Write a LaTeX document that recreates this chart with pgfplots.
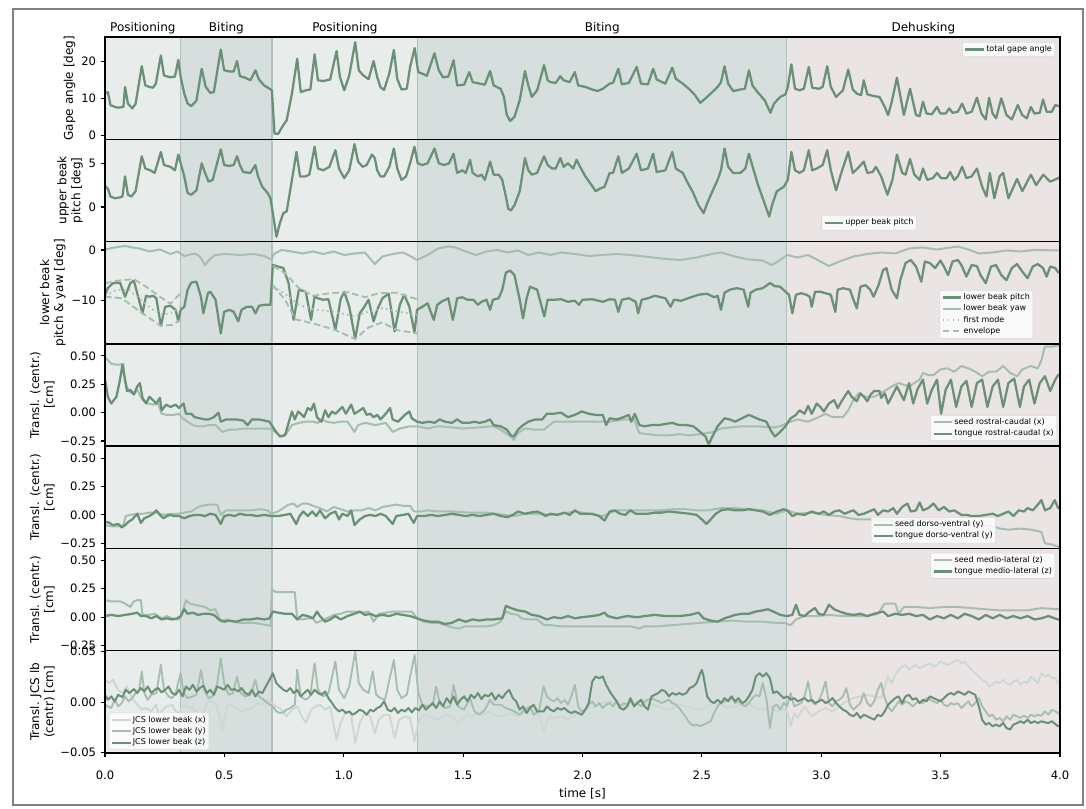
\documentclass[border=0pt]{standalone}
\usepackage{fontspec}
\setmainfont{DejaVu Sans}
\setsansfont{DejaVu Sans}
\usepackage{pgfplots}
\pgfplotsset{compat=1.18}
\definecolor{cdark}{HTML}{6A9176}
\definecolor{cmid}{HTML}{A6BEAE}
\definecolor{clight}{HTML}{CDD8D2}
\definecolor{cdot}{HTML}{AEBFB4}
\definecolor{cpos}{HTML}{E8ECEA}
\definecolor{cbit}{HTML}{D6DFDE}
\definecolor{cdeh}{HTML}{EAE4E5}
\definecolor{cedge}{HTML}{B0BFBF}
\newcommand{\spans}[2]{%
\fill[cpos] (axis cs:0,#1) rectangle (axis cs:0.317,#2);
\fill[cbit] (axis cs:0.317,#1) rectangle (axis cs:0.700,#2);
\fill[cpos] (axis cs:0.700,#1) rectangle (axis cs:1.310,#2);
\fill[cbit] (axis cs:1.310,#1) rectangle (axis cs:2.855,#2);
\fill[cdeh] (axis cs:2.855,#1) rectangle (axis cs:4,#2);
\draw[cedge,line width=1.1pt] (axis cs:0.317,#1) -- (axis cs:0.317,#2);
\draw[cedge,line width=1.1pt] (axis cs:0.700,#1) -- (axis cs:0.700,#2);
\draw[cedge,line width=1.1pt] (axis cs:1.310,#1) -- (axis cs:1.310,#2);
\draw[cedge,line width=1.1pt] (axis cs:2.855,#1) -- (axis cs:2.855,#2);
}
\pgfplotsset{
 panel/.style={
  scale only axis, width=716.25pt, height=76.714pt,
  xmin=0, xmax=4, xtick=\empty,
  axis on top=true, clip mode=individual,
  scaled y ticks=false, scaled x ticks=false,
  axis line style={line width=1.1pt},
  ytick pos=left, tick align=outside, major tick length=3.2pt,
  tick style={black, line width=0.8pt},
  yticklabel style={font=\fontsize{8.7}{10}\selectfont},
  xticklabel style={font=\fontsize{8.7}{10}\selectfont, yshift=-6.5pt},
  ylabel style={font=\fontsize{9}{10.5}\selectfont, align=center, yshift=-2.5pt},
  xlabel style={font=\fontsize{9}{10.5}\selectfont},
  legend style={font=\fontsize{6}{7}\selectfont, fill=white, fill opacity=0.8, text opacity=1, draw=black!15, rounded corners=1.5pt, inner sep=1.5pt, row sep=0.8pt, nodes={inner sep=0.8pt}},
  legend cell align=left,
  legend image code/.code={\draw[##1] (0pt,0pt) -- (14pt,0pt);},
 },
 dk/.style={cdark, line width=1.7pt, line join=round},
 md/.style={cmid, line width=1.5pt, line join=round},
}
\begin{document}
\begin{tikzpicture}
\path[use as bounding box] (0pt,0pt) rectangle (814.5pt,-606.75pt);
\draw[black!50, line width=1.5pt] (9.75pt,-6.75pt) rectangle (812.25pt,-603.75pt);

% ---------------- Panel 1
\begin{axis}[panel, at={(78.75pt,-104.464pt)}, anchor=south west,
 ymin=-1.05, ymax=26.6, ytick={0,10,20}, yticklabels={0,10,20},
 ylabel={Gape angle [deg]},
 legend style={at={(0.995,0.95)}, anchor=north east}]
\spans{-1.05}{26.6}
\addplot[dk] coordinates {(0,11.5)(0.012,11.7)(0.023,8.2)(0.041,7.7)(0.055,7.5)(0.077,7.7)(0.084,13.1)(0.096,8.6)(0.114,7.3)(0.128,8.5)(0.154,18.7)(0.169,13.5)(0.186,13.1)(0.201,12.9)(0.213,14.0)(0.234,21.6)(0.247,16.2)(0.274,15.7)(0.293,15.9)(0.307,20.4)(0.317,15.8)(0.332,11.3)(0.346,8.6)(0.361,7.9)(0.383,9.4)(0.405,18.0)(0.422,13.1)(0.441,11.5)(0.456,11.7)(0.485,23.2)(0.499,17.6)(0.521,17.3)(0.539,17.3)(0.553,20.1)(0.565,16.0)(0.587,15.6)(0.609,14.9)(0.630,17.6)(0.645,15.1)(0.667,13.5)(0.689,12.6)(0.699,12.2)(0.710,0.5)(0.725,0.4)(0.747,2.8)(0.761,4.1)(0.783,11.3)(0.805,20.7)(0.820,11.7)(0.841,12.2)(0.860,12.4)(0.878,21.9)(0.892,14.9)(0.914,14.7)(0.943,15.1)(0.970,22.8)(0.984,15.8)(1.002,12.2)(1.023,16.2)(1.048,25.2)(1.063,17.6)(1.082,16.2)(1.104,15.2)(1.125,20.1)(1.140,15.8)(1.154,13.0)(1.169,12.3)(1.191,16.8)(1.210,23.1)(1.224,15.3)(1.242,12.4)(1.264,12.6)(1.278,18.5)(1.297,23.6)(1.312,17.1)(1.329,16.7)(1.348,16.1)(1.380,22.2)(1.398,17.6)(1.416,15.7)(1.438,15.9)(1.460,20.3)(1.475,13.5)(1.504,13.7)(1.526,17.1)(1.540,14.4)(1.569,14.0)(1.591,13.7)(1.613,17.4)(1.628,13.5)(1.657,12.6)(1.671,10.4)(1.683,5.5)(1.697,3.9)(1.715,5.0)(1.737,9.5)(1.759,17.4)(1.773,13.5)(1.788,10.4)(1.810,12.2)(1.839,19.0)(1.854,14.9)(1.866,14.4)(1.888,14.2)(1.907,16.0)(1.921,14.9)(1.946,14.4)(1.968,17.1)(1.982,13.5)(2.012,13.1)(2.041,12.4)(2.063,12.0)(2.085,12.6)(2.114,14.0)(2.128,14.2)(2.150,18.0)(2.165,13.8)(2.194,14.2)(2.227,18.5)(2.245,14.0)(2.274,13.8)(2.296,18.0)(2.311,15.1)(2.347,14.0)(2.376,18.3)(2.391,15.3)(2.420,14.0)(2.449,12.4)(2.471,10.9)(2.493,8.8)(2.515,10.0)(2.537,11.3)(2.566,13.1)(2.580,14.4)(2.595,18.7)(2.610,14.0)(2.631,12.0)(2.661,12.4)(2.680,12.6)(2.697,17.6)(2.712,13.5)(2.733,11.7)(2.763,9.5)(2.787,6.1)(2.802,8.6)(2.828,10.4)(2.850,11.1)(2.860,13.1)(2.875,19.2)(2.890,12.6)(2.909,12.2)(2.927,12.6)(2.948,18.5)(2.962,12.9)(2.989,12.6)(3.006,13.1)(3.025,18.7)(3.040,13.1)(3.062,10.4)(3.091,12.2)(3.113,17.8)(3.132,12.4)(3.149,11.3)(3.167,10.9)(3.178,14.9)(3.193,11.1)(3.222,10.6)(3.244,10.4)(3.266,7.7)(3.280,5.5)(3.295,9.0)(3.317,15.6)(3.346,5.5)(3.372,12.6)(3.397,5.5)(3.412,5.2)(3.426,9.1)(3.441,5.9)(3.463,5.7)(3.485,7.7)(3.499,5.9)(3.521,5.9)(3.536,7.3)(3.550,6.1)(3.572,6.4)(3.590,8.6)(3.608,5.9)(3.630,6.4)(3.652,10.2)(3.671,5.9)(3.689,4.3)(3.703,10.2)(3.718,5.9)(3.732,4.6)(3.754,10.0)(3.776,5.5)(3.798,4.3)(3.823,8.2)(3.842,5.5)(3.861,4.6)(3.878,7.7)(3.893,5.9)(3.915,6.1)(3.929,9.7)(3.944,6.4)(3.966,6.4)(3.980,8.2)(3.995,7.9)};
\addlegendentry{total gape angle}
\node[anchor=base, yshift=3.75pt, font=\fontsize{9}{10}\selectfont] at (axis cs:0.1585,26.6) {Positioning};
\node[anchor=base, yshift=3.75pt, font=\fontsize{9}{10}\selectfont] at (axis cs:0.5085,26.6) {Biting};
\node[anchor=base, yshift=3.75pt, font=\fontsize{9}{10}\selectfont] at (axis cs:1.005,26.6) {Positioning};
\node[anchor=base, yshift=3.75pt, font=\fontsize{9}{10}\selectfont] at (axis cs:2.0825,26.6) {Biting};
\node[anchor=base, yshift=3.75pt, font=\fontsize{9}{10}\selectfont] at (axis cs:3.4275,26.6) {Dehusking};
\end{axis}

% ---------------- Panel 2
\begin{axis}[panel, at={(78.75pt,-181.178pt)}, anchor=south west,
 ymin=-3.96, ymax=7.75, ytick={0,5}, yticklabels={0,5},
 ylabel={upper beak\\pitch [deg]},
 legend style={at={(0.80,0.11)}, anchor=south}]
\spans{-3.96}{7.75}
\addplot[dk] coordinates {(0,2.4)(0.012,2.1)(0.023,1.2)(0.041,1.0)(0.063,1.1)(0.073,1.2)(0.084,3.5)(0.096,1.4)(0.111,1.2)(0.128,1.8)(0.154,5.8)(0.169,4.4)(0.189,4.2)(0.208,3.9)(0.218,4.8)(0.234,6.3)(0.247,4.8)(0.274,4.6)(0.293,4.2)(0.307,6.0)(0.317,5.0)(0.332,3.5)(0.346,1.6)(0.361,1.4)(0.383,1.9)(0.405,5.0)(0.419,3.9)(0.434,2.9)(0.451,3.1)(0.485,6.6)(0.499,4.8)(0.521,4.7)(0.539,4.8)(0.553,5.8)(0.565,4.8)(0.579,4.0)(0.609,3.9)(0.630,4.8)(0.641,3.5)(0.659,2.3)(0.681,1.6)(0.693,1.0)(0.703,-0.7)(0.718,-3.4)(0.732,-1.9)(0.747,-0.7)(0.761,-0.5)(0.783,3.1)(0.802,6.3)(0.817,3.5)(0.839,3.5)(0.856,3.7)(0.878,6.9)(0.892,4.4)(0.914,4.2)(0.940,4.6)(0.965,6.5)(0.980,4.4)(1.002,3.3)(1.023,4.2)(1.045,7.2)(1.060,5.2)(1.079,4.6)(1.096,4.8)(1.118,6.0)(1.130,5.6)(1.140,4.2)(1.154,3.5)(1.169,3.5)(1.191,4.6)(1.210,6.7)(1.224,4.4)(1.242,3.1)(1.261,3.5)(1.278,5.0)(1.296,6.9)(1.310,5.0)(1.329,4.8)(1.351,5.0)(1.380,6.7)(1.398,5.0)(1.421,4.8)(1.441,5.0)(1.460,6.1)(1.475,3.9)(1.497,4.2)(1.511,3.9)(1.529,5.4)(1.540,3.9)(1.562,3.5)(1.577,3.7)(1.591,3.1)(1.613,5.2)(1.628,3.7)(1.649,3.7)(1.664,3.1)(1.679,1.2)(1.689,-0.2)(1.700,-0.4)(1.715,0.2)(1.737,1.8)(1.759,5.6)(1.773,4.2)(1.788,3.7)(1.810,3.9)(1.839,5.8)(1.854,4.8)(1.873,4.4)(1.888,4.4)(1.907,5.6)(1.921,4.6)(1.939,5.0)(1.961,4.4)(1.975,5.4)(1.990,4.6)(2.012,3.5)(2.038,2.5)(2.055,1.8)(2.073,2.1)(2.092,2.3)(2.114,3.9)(2.128,3.9)(2.150,5.8)(2.165,3.9)(2.194,4.4)(2.227,6.1)(2.245,4.2)(2.274,4.4)(2.296,6.1)(2.311,4.0)(2.347,4.2)(2.376,6.3)(2.391,4.4)(2.420,3.9)(2.442,2.7)(2.464,1.6)(2.486,0.2)(2.507,-0.7)(2.522,0.4)(2.544,1.8)(2.566,3.1)(2.580,4.2)(2.595,6.7)(2.610,4.6)(2.631,3.9)(2.661,3.9)(2.682,4.4)(2.697,6.1)(2.715,4.4)(2.733,2.7)(2.755,1.0)(2.782,-1.1)(2.796,0.4)(2.814,1.8)(2.843,2.3)(2.860,3.1)(2.875,6.3)(2.890,4.2)(2.909,3.9)(2.927,4.2)(2.948,6.5)(2.962,4.2)(2.981,4.4)(3.006,4.8)(3.025,6.5)(3.040,4.2)(3.062,1.9)(3.084,3.9)(3.113,6.3)(3.132,3.9)(3.152,4.4)(3.178,5.2)(3.193,3.9)(3.215,4.0)(3.229,4.6)(3.251,3.5)(3.277,1.4)(3.298,3.1)(3.317,6.0)(3.339,3.9)(3.353,3.7)(3.372,5.5)(3.390,3.7)(3.412,3.1)(3.426,4.4)(3.444,3.1)(3.467,3.3)(3.485,3.9)(3.502,3.3)(3.525,3.3)(3.540,4.0)(3.557,3.1)(3.572,3.5)(3.590,4.6)(3.608,3.3)(3.630,3.5)(3.652,4.4)(3.674,2.3)(3.692,1.2)(3.706,3.9)(3.725,1.0)(3.747,3.5)(3.762,3.9)(3.784,1.0)(3.820,3.2)(3.842,1.8)(3.878,3.7)(3.900,2.5)(3.930,3.7)(3.959,2.9)(3.992,3.3)(4.0,3.4)};
\addlegendentry{upper beak pitch}
\end{axis}

% ---------------- Panel 3
\begin{axis}[panel, at={(78.75pt,-257.892pt)}, anchor=south west,
 ymin=-18.67, ymax=1.67, ytick={-10,0}, yticklabels={−10,0},
 ylabel={lower beak\\pitch \& yaw [deg]}, unbounded coords=jump,
 legend style={at={(0.972,0.05)}, anchor=south east}]
\spans{-18.67}{1.67}
\addplot[dk] coordinates {(0,-8.9)(0.012,-7.6)(0.033,-6.6)(0.063,-6.5)(0.084,-9.3)(0.106,-6.6)(0.121,-6.1)(0.135,-8.6)(0.157,-12.6)(0.172,-9.1)(0.186,-9.3)(0.201,-9.1)(0.215,-9.6)(0.234,-15.1)(0.252,-11.3)(0.274,-11.1)(0.296,-11.9)(0.307,-14.2)(0.317,-11.9)(0.332,-11.3)(0.346,-7.9)(0.361,-6.5)(0.383,-6.3)(0.402,-9.3)(0.412,-12.6)(0.431,-8.6)(0.441,-8.3)(0.463,-9.9)(0.485,-16.6)(0.499,-12.3)(0.521,-11.9)(0.539,-12.3)(0.558,-14.2)(0.572,-11.9)(0.594,-11.3)(0.616,-11.3)(0.630,-12.6)(0.645,-11.1)(0.667,-10.9)(0.693,-10.9)(0.703,-3.0)(0.725,-3.3)(0.747,-3.6)(0.769,-6.6)(0.790,-13.9)(0.812,-7.9)(0.841,-8.3)(0.863,-13.9)(0.878,-9.3)(0.892,-9.6)(0.914,-9.9)(0.936,-9.8)(0.965,-15.9)(0.987,-9.8)(1.002,-8.3)(1.023,-11.3)(1.048,-17.7)(1.067,-12.6)(1.082,-11.6)(1.104,-9.9)(1.125,-14.2)(1.140,-11.9)(1.162,-9.6)(1.188,-8.7)(1.213,-16.2)(1.235,-10.9)(1.253,-8.9)(1.275,-11.3)(1.296,-16.4)(1.307,-11.9)(1.329,-11.3)(1.351,-10.6)(1.377,-13.9)(1.392,-10.9)(1.409,-10.3)(1.438,-9.6)(1.457,-13.9)(1.475,-9.6)(1.497,-9.4)(1.518,-9.9)(1.543,-9.9)(1.562,-10.9)(1.577,-10.3)(1.598,-9.9)(1.613,-11.9)(1.625,-9.9)(1.649,-9.6)(1.664,-7.9)(1.679,-4.5)(1.697,-4.1)(1.715,-5.0)(1.737,-9.9)(1.751,-13.6)(1.766,-9.6)(1.780,-7.3)(1.810,-7.9)(1.840,-13.2)(1.854,-9.9)(1.880,-9.9)(1.910,-9.8)(1.939,-10.3)(1.968,-10.1)(1.985,-10.9)(2.000,-9.9)(2.041,-9.8)(2.085,-10.3)(2.114,-9.8)(2.136,-9.9)(2.150,-12.3)(2.165,-9.9)(2.194,-9.6)(2.223,-10.3)(2.233,-12.6)(2.248,-9.9)(2.274,-9.6)(2.303,-9.1)(2.347,-9.6)(2.369,-11.3)(2.383,-9.9)(2.413,-10.1)(2.442,-9.6)(2.486,-8.9)(2.522,-8.7)(2.551,-9.4)(2.566,-9.1)(2.580,-11.9)(2.595,-8.5)(2.617,-7.9)(2.646,-7.6)(2.675,-7.9)(2.694,-11.3)(2.704,-8.5)(2.726,-7.9)(2.755,-7.6)(2.785,-6.6)(2.806,-7.2)(2.828,-7.3)(2.850,-8.3)(2.865,-8.9)(2.879,-12.6)(2.894,-8.9)(2.916,-8.6)(2.938,-8.9)(2.952,-9.3)(2.960,-11.3)(2.974,-8.3)(2.996,-8.3)(3.018,-8.6)(3.040,-8.9)(3.059,-12.3)(3.069,-7.9)(3.091,-7.6)(3.120,-7.9)(3.135,-9.9)(3.149,-11.6)(3.164,-7.3)(3.186,-7.0)(3.205,-7.9)(3.219,-9.3)(3.240,-7.0)(3.259,-4.0)(3.273,-3.6)(3.295,-7.9)(3.317,-9.6)(3.331,-6.0)(3.353,-2.6)(3.375,-2.0)(3.397,-3.3)(3.419,-6.3)(3.434,-2.3)(3.455,-2.6)(3.477,-3.6)(3.499,-2.1)(3.514,-3.3)(3.531,-5.0)(3.550,-2.3)(3.572,-2.0)(3.587,-3.0)(3.608,-5.3)(3.630,-3.0)(3.652,-3.2)(3.667,-5.0)(3.689,-6.6)(3.711,-3.3)(3.732,-3.0)(3.754,-5.0)(3.776,-6.0)(3.798,-3.6)(3.820,-2.8)(3.842,-4.3)(3.864,-5.6)(3.886,-3.3)(3.907,-2.8)(3.929,-3.6)(3.944,-5.3)(3.959,-3.3)(3.980,-3.6)(3.995,-4.6)};
\addlegendentry{lower beak pitch}
\addplot[md] coordinates {(0,0.1)(0.041,0.5)(0.084,0.8)(0.114,0.5)(0.143,0.3)(0.186,-0.3)(0.230,0.1)(0.274,-0.8)(0.303,-0.3)(0.332,-1.2)(0.376,-0.7)(0.397,-1.3)(0.419,-3.0)(0.441,-1.7)(0.463,-1.0)(0.507,-0.8)(0.565,-1.0)(0.623,-0.8)(0.667,-1.2)(0.696,-1.9)(0.710,-0.7)(0.740,0.0)(0.783,-0.3)(0.827,-0.7)(0.871,-0.3)(0.914,-0.8)(0.958,-0.3)(1.002,-1.0)(1.045,-0.7)(1.089,-0.5)(1.130,-2.8)(1.162,-1.3)(1.205,-0.8)(1.249,-0.5)(1.278,-1.2)(1.307,-2.0)(1.351,-1.0)(1.395,0.3)(1.438,0.7)(1.468,0.5)(1.511,-0.3)(1.555,-1.0)(1.598,-0.3)(1.642,0.0)(1.686,-0.5)(1.730,-0.1)(1.773,-1.0)(1.817,-0.5)(1.866,-1.0)(1.910,-0.5)(1.968,-0.8)(2.026,-1.2)(2.085,-1.0)(2.143,-0.8)(2.201,-1.0)(2.260,-1.3)(2.332,-1.7)(2.405,-2.0)(2.478,-1.5)(2.551,-0.7)(2.580,-0.5)(2.639,-1.3)(2.697,-1.9)(2.755,-2.1)(2.792,-3.0)(2.828,-2.0)(2.857,-1.0)(2.901,-1.5)(2.945,-1.0)(2.989,-2.1)(3.032,-3.2)(3.076,-2.3)(3.135,-1.3)(3.193,-0.8)(3.251,-0.5)(3.310,-0.7)(3.368,0.3)(3.426,0.5)(3.485,0.1)(3.543,0.5)(3.572,0.7)(3.616,0.1)(3.660,-0.7)(3.718,-0.5)(3.776,-0.1)(3.835,-0.3)(3.893,0.0)(4.0,-0.1)};
\addlegendentry{lower beak yaw}
\addplot[cdot, line width=1.4pt, dash pattern=on 1.2pt off 2.6pt] coordinates {(0,-9.1)(0.048,-7.9)(0.099,-7.9)(0.143,-9.6)(0.201,-11.9)(0.245,-12.9)(0.288,-12.3)(0.317,-11.3)(0.5,nan)(0.703,-7.3)(0.754,-8.7)(0.812,-10.9)(0.871,-11.8)(0.958,-12.3)(1.048,-13.2)(1.104,-12.3)(1.162,-11.6)(1.235,-12.3)(1.307,-12.9)};
\addlegendentry{first mode}
\addplot[cmid, line width=1.4pt, dash pattern=on 5pt off 2.5pt] coordinates {(0,-6.6)(0.055,-6.1)(0.121,-5.8)(0.172,-7.3)(0.230,-9.3)(0.274,-10.7)(0.317,-8.6)(0.5,nan)(0.703,-3.2)(0.754,-4.6)(0.812,-7.6)(0.871,-9.1)(0.943,-8.6)(1.016,-8.4)(1.089,-9.4)(1.147,-8.6)(1.220,-8.5)(1.307,-9.8)};
\addlegendentry{envelope}
\addplot[cmid, line width=1.4pt, dash pattern=on 5pt off 2.5pt, forget plot] coordinates {(0,-9.3)(0.070,-9.6)(0.157,-12.6)(0.234,-15.1)(0.281,-14.9)(0.317,-13.9)(0.5,nan)(0.703,-7.0)(0.754,-9.9)(0.798,-13.8)(0.871,-14.6)(0.958,-15.8)(1.048,-17.7)(1.104,-15.4)(1.162,-14.4)(1.220,-15.9)(1.307,-16.6)};
\end{axis}

% ---------------- Panel 4
\begin{axis}[panel, at={(78.75pt,-334.606pt)}, anchor=south west,
 ymin=-0.295, ymax=0.605, ytick={-0.25,0,0.25,0.5}, yticklabels={−0.25,0.00,0.25,0.50},
 ylabel={Transl. (centr.)\\{}[cm]},
 legend style={at={(0.997,0.05)}, anchor=south east}]
\spans{-0.295}{0.605}
\addplot[md] coordinates {(0,0.49)(0.026,0.43)(0.055,0.42)(0.077,0.43)(0.084,0.27)(0.099,0.19)(0.121,0.16)(0.135,0.20)(0.157,0.11)(0.179,0.08)(0.201,0.07)(0.223,0.08)(0.237,-0.01)(0.259,-0.02)(0.288,-0.02)(0.310,-0.01)(0.325,-0.05)(0.346,-0.08)(0.368,-0.11)(0.390,-0.12)(0.412,-0.12)(0.434,-0.11)(0.463,-0.11)(0.492,-0.17)(0.521,-0.15)(0.550,-0.15)(0.579,-0.14)(0.638,-0.14)(0.696,-0.14)(0.718,-0.18)(0.740,-0.21)(0.761,-0.18)(0.783,-0.11)(0.812,-0.09)(0.841,-0.08)(0.871,-0.08)(0.892,-0.09)(0.907,-0.06)(0.929,-0.08)(0.958,-0.09)(0.987,-0.08)(1.016,-0.08)(1.045,-0.17)(1.060,-0.11)(1.089,-0.09)(1.133,-0.11)(1.176,-0.09)(1.205,-0.17)(1.235,-0.14)(1.278,-0.12)(1.307,-0.12)(1.351,-0.14)(1.395,-0.12)(1.453,-0.13)(1.497,-0.14)(1.569,-0.13)(1.628,-0.12)(1.657,-0.15)(1.700,-0.21)(1.712,-0.24)(1.730,-0.18)(1.759,-0.14)(1.802,-0.15)(1.839,-0.15)(1.880,-0.08)(1.939,-0.08)(1.997,-0.08)(2.055,-0.08)(2.114,-0.08)(2.172,-0.06)(2.216,-0.06)(2.238,-0.18)(2.274,-0.19)(2.318,-0.20)(2.362,-0.20)(2.405,-0.19)(2.449,-0.20)(2.493,-0.19)(2.522,-0.18)(2.551,-0.17)(2.580,-0.14)(2.624,-0.13)(2.668,-0.12)(2.726,-0.12)(2.799,-0.13)(2.828,-0.12)(2.857,-0.09)(2.901,-0.06)(2.945,-0.08)(2.989,-0.04)(3.018,-0.01)(3.047,-0.04)(3.091,-0.04)(3.113,0.02)(3.135,0.11)(3.156,0.17)(3.186,0.14)(3.222,0.14)(3.266,0.19)(3.295,0.23)(3.324,0.26)(3.368,0.23)(3.412,0.29)(3.426,0.35)(3.448,0.33)(3.470,0.33)(3.499,0.38)(3.528,0.39)(3.557,0.36)(3.587,0.41)(3.616,0.39)(3.645,0.36)(3.674,0.32)(3.703,0.36)(3.732,0.36)(3.762,0.41)(3.791,0.35)(3.820,0.32)(3.842,0.38)(3.878,0.41)(3.907,0.39)(3.922,0.46)(3.937,0.58)(3.966,0.58)(3.992,0.59)(4.0,0.59)};
\addlegendentry{seed rostral-caudal (x)}
\addplot[dk] coordinates {(0,0.29)(0.012,0.14)(0.026,0.08)(0.048,0.14)(0.063,0.29)(0.073,0.42)(0.084,0.29)(0.092,0.19)(0.106,0.20)(0.121,0.16)(0.135,0.23)(0.146,0.26)(0.157,0.13)(0.172,0.08)(0.186,0.14)(0.201,0.11)(0.215,0.08)(0.230,0.13)(0.237,0.02)(0.256,0.07)(0.274,0.05)(0.296,0.07)(0.310,0.04)(0.329,0.08)(0.339,-0.01)(0.361,-0.01)(0.376,-0.04)(0.397,-0.05)(0.419,-0.06)(0.434,-0.06)(0.456,-0.04)(0.475,0.00)(0.485,-0.08)(0.507,-0.06)(0.528,-0.06)(0.550,-0.06)(0.579,-0.07)(0.597,-0.11)(0.616,-0.06)(0.645,-0.06)(0.667,-0.07)(0.689,-0.08)(0.710,-0.15)(0.732,-0.21)(0.754,-0.20)(0.769,-0.09)(0.783,0.01)(0.795,-0.06)(0.809,0.01)(0.820,-0.01)(0.834,-0.04)(0.849,0.04)(0.863,0.02)(0.875,0.08)(0.888,-0.04)(0.907,-0.08)(0.922,0.02)(0.936,-0.04)(0.951,0.01)(0.965,-0.01)(0.980,0.02)(0.994,0.05)(1.009,-0.01)(1.031,0.07)(1.045,-0.01)(1.060,0.01)(1.082,0.04)(1.096,-0.02)(1.111,-0.01)(1.125,-0.04)(1.140,-0.02)(1.154,-0.06)(1.176,-0.01)(1.194,0.04)(1.205,-0.06)(1.227,-0.08)(1.256,-0.02)(1.275,0.01)(1.285,-0.05)(1.307,-0.08)(1.329,-0.09)(1.358,-0.08)(1.380,-0.09)(1.402,-0.06)(1.424,-0.08)(1.453,-0.09)(1.475,-0.06)(1.497,-0.09)(1.526,-0.09)(1.547,-0.08)(1.569,-0.09)(1.591,-0.08)(1.613,-0.06)(1.628,-0.11)(1.657,-0.12)(1.683,-0.15)(1.700,-0.20)(1.712,-0.21)(1.730,-0.15)(1.751,-0.11)(1.773,-0.08)(1.802,-0.06)(1.831,-0.06)(1.851,-0.01)(1.880,-0.01)(1.910,0.00)(1.939,-0.04)(1.968,-0.02)(1.997,0.01)(2.026,-0.01)(2.055,-0.02)(2.085,-0.02)(2.099,-0.11)(2.114,-0.05)(2.143,-0.06)(2.172,-0.04)(2.194,-0.02)(2.204,-0.08)(2.219,-0.01)(2.238,-0.11)(2.260,-0.12)(2.289,-0.11)(2.318,-0.11)(2.347,-0.10)(2.376,-0.09)(2.405,-0.11)(2.435,-0.11)(2.464,-0.12)(2.493,-0.17)(2.515,-0.21)(2.529,-0.28)(2.544,-0.21)(2.566,-0.12)(2.595,-0.05)(2.617,-0.06)(2.639,-0.08)(2.668,-0.05)(2.697,-0.02)(2.719,-0.04)(2.741,-0.06)(2.770,-0.08)(2.792,-0.17)(2.806,-0.21)(2.828,-0.17)(2.850,-0.12)(2.872,-0.05)(2.894,-0.02)(2.909,0.02)(2.930,-0.01)(2.945,0.06)(2.960,-0.01)(2.981,0.08)(2.996,0.05)(3.011,0.01)(3.032,0.08)(3.054,0.11)(3.069,0.04)(3.091,0.12)(3.113,0.19)(3.127,0.14)(3.149,0.10)(3.164,0.17)(3.178,0.14)(3.193,0.10)(3.207,0.16)(3.222,0.19)(3.244,0.19)(3.251,0.13)(3.266,0.17)(3.280,0.08)(3.295,0.14)(3.317,0.23)(3.331,0.17)(3.346,0.11)(3.368,0.26)(3.385,0.08)(3.404,0.21)(3.426,0.29)(3.444,0.08)(3.463,0.20)(3.485,0.29)(3.502,-0.01)(3.521,0.20)(3.543,0.29)(3.565,0.05)(3.587,0.23)(3.608,0.28)(3.630,0.05)(3.652,0.26)(3.674,0.29)(3.696,0.05)(3.718,0.23)(3.740,0.29)(3.762,0.05)(3.784,0.26)(3.808,0.30)(3.832,0.05)(3.849,0.23)(3.871,0.29)(3.893,0.08)(3.915,0.26)(3.937,0.32)(3.959,0.19)(3.980,0.29)(3.992,0.33)(4.0,0.33)};
\addlegendentry{tongue rostral-caudal (x)}
\end{axis}

% ---------------- Panel 5
\begin{axis}[panel, at={(78.75pt,-411.320pt)}, anchor=south west,
 ymin=-0.295, ymax=0.605, ytick={-0.25,0,0.25,0.5}, yticklabels={−0.25,0.00,0.25,0.50},
 ylabel={Transl. (centr.)\\{}[cm]},
 legend style={at={(0.933,0.05)}, anchor=south east}]
\spans{-0.295}{0.605}
\addplot[md] coordinates {(0,-0.09)(0.026,-0.10)(0.055,-0.10)(0.077,-0.09)(0.087,-0.01)(0.106,0.00)(0.135,0.01)(0.157,0.01)(0.186,0.02)(0.215,0.02)(0.245,0.00)(0.274,0.01)(0.303,0.01)(0.332,0.02)(0.361,0.03)(0.383,0.06)(0.405,0.08)(0.434,0.09)(0.470,0.09)(0.485,0.00)(0.507,0.04)(0.536,0.04)(0.565,0.04)(0.609,0.04)(0.652,0.05)(0.681,0.04)(0.696,0.01)(0.725,0.03)(0.747,0.06)(0.769,0.09)(0.790,0.10)(0.805,0.07)(0.827,0.10)(0.849,0.10)(0.871,0.08)(0.900,0.06)(0.929,0.03)(0.958,0.07)(0.987,0.05)(1.016,0.03)(1.045,0.04)(1.074,0.04)(1.104,0.06)(1.133,0.04)(1.162,0.07)(1.191,0.08)(1.220,0.09)(1.249,0.08)(1.278,0.08)(1.293,0.03)(1.322,0.03)(1.351,0.04)(1.395,0.03)(1.453,0.03)(1.526,0.02)(1.598,0.02)(1.671,0.00)(1.715,-0.01)(1.759,0.01)(1.802,0.01)(1.822,0.01)(1.866,0.00)(1.910,0.01)(1.968,0.03)(2.026,0.01)(2.085,-0.01)(2.143,0.04)(2.201,0.04)(2.260,0.04)(2.318,0.04)(2.376,0.05)(2.435,0.05)(2.478,0.04)(2.522,0.04)(2.580,0.06)(2.639,0.06)(2.697,0.05)(2.755,0.04)(2.814,0.01)(2.857,0.04)(2.901,0.01)(2.960,0.02)(3.018,0.00)(3.076,-0.01)(3.120,-0.03)(3.164,-0.04)(3.207,-0.04)(3.266,-0.05)(3.339,-0.05)(3.397,-0.04)(3.455,-0.04)(3.514,-0.04)(3.572,-0.06)(3.630,-0.07)(3.674,-0.09)(3.718,-0.10)(3.747,-0.12)(3.784,-0.13)(3.835,-0.12)(3.878,-0.13)(3.922,-0.15)(3.937,-0.25)(3.966,-0.26)(3.992,-0.28)(4.0,-0.28)};
\addlegendentry{seed dorso-ventral (y)}
\addplot[dk] coordinates {(0,-0.06)(0.019,-0.07)(0.033,-0.09)(0.055,-0.08)(0.070,-0.11)(0.084,-0.09)(0.099,-0.06)(0.114,-0.04)(0.135,0.01)(0.150,-0.07)(0.165,-0.03)(0.186,-0.01)(0.201,0.01)(0.215,0.04)(0.230,0.00)(0.245,-0.03)(0.259,-0.01)(0.274,0.00)(0.288,-0.01)(0.310,-0.01)(0.332,-0.03)(0.354,-0.01)(0.376,0.00)(0.397,0.00)(0.419,-0.01)(0.441,0.01)(0.463,0.00)(0.485,-0.08)(0.499,-0.01)(0.521,0.00)(0.543,-0.01)(0.565,0.01)(0.587,0.00)(0.609,0.00)(0.638,-0.01)(0.667,0.00)(0.696,-0.01)(0.725,-0.01)(0.754,0.00)(0.776,0.01)(0.801,-0.08)(0.815,-0.01)(0.830,0.03)(0.849,-0.01)(0.868,0.03)(0.885,-0.01)(0.900,0.04)(0.922,-0.03)(0.943,0.01)(0.965,0.03)(0.980,-0.04)(0.994,0.01)(1.016,-0.01)(1.031,0.04)(1.045,-0.09)(1.067,-0.04)(1.089,-0.01)(1.111,0.00)(1.133,-0.01)(1.154,0.01)(1.176,-0.01)(1.205,-0.08)(1.220,-0.01)(1.249,0.00)(1.271,0.01)(1.293,-0.07)(1.307,-0.01)(1.336,-0.01)(1.366,0.00)(1.395,-0.01)(1.424,0.00)(1.453,0.01)(1.482,0.00)(1.511,-0.01)(1.540,0.00)(1.569,-0.01)(1.598,0.00)(1.628,0.01)(1.657,-0.01)(1.686,-0.02)(1.708,0.00)(1.730,0.03)(1.759,0.01)(1.780,0.02)(1.810,0.03)(1.831,0.01)(1.844,-0.01)(1.866,0.01)(1.895,0.00)(1.924,0.02)(1.946,0.00)(1.968,0.04)(1.990,0.01)(2.012,0.01)(2.041,0.01)(2.070,-0.01)(2.092,-0.05)(2.114,0.03)(2.136,0.04)(2.157,0.01)(2.179,0.00)(2.201,0.04)(2.223,0.01)(2.245,0.01)(2.274,0.01)(2.303,0.02)(2.332,0.02)(2.362,0.03)(2.405,0.02)(2.449,0.01)(2.478,0.00)(2.500,-0.04)(2.519,-0.08)(2.537,-0.04)(2.558,0.01)(2.580,0.04)(2.610,0.05)(2.639,0.04)(2.668,0.04)(2.697,0.05)(2.726,0.04)(2.755,0.03)(2.785,0.00)(2.814,0.03)(2.843,0.05)(2.857,0.04)(2.879,-0.01)(2.901,0.01)(2.930,0.00)(2.960,0.03)(2.989,0.01)(3.011,0.03)(3.032,0.00)(3.054,0.03)(3.076,0.04)(3.098,0.01)(3.120,0.03)(3.135,0.04)(3.156,0.00)(3.178,0.01)(3.200,0.03)(3.222,0.05)(3.237,0.00)(3.259,0.04)(3.280,0.03)(3.302,0.06)(3.317,0.01)(3.339,0.07)(3.361,0.10)(3.375,0.03)(3.397,0.04)(3.412,0.11)(3.426,0.04)(3.448,0.06)(3.470,0.10)(3.492,0.04)(3.514,0.07)(3.536,0.03)(3.557,0.04)(3.587,0.00)(3.608,0.00)(3.630,-0.01)(3.660,-0.01)(3.689,0.00)(3.718,0.01)(3.740,-0.01)(3.762,0.01)(3.784,0.03)(3.805,-0.01)(3.827,0.04)(3.849,0.03)(3.864,0.06)(3.886,0.04)(3.907,0.09)(3.922,0.13)(3.937,0.04)(3.959,0.06)(3.978,0.13)(3.992,0.06)(4.0,0.07)};
\addlegendentry{tongue dorso-ventral (y)}
\end{axis}

% ---------------- Panel 6
\begin{axis}[panel, at={(78.75pt,-488.035pt)}, anchor=south west,
 ymin=-0.295, ymax=0.605, ytick={-0.25,0,0.25,0.5}, yticklabels={−0.25,0.00,0.25,0.50},
 ylabel={Transl. (centr.)\\{}[cm]},
 legend style={at={(0.995,0.958)}, anchor=north east}]
\spans{-0.295}{0.605}
\addplot[md] coordinates {(0,0.15)(0.026,0.14)(0.063,0.14)(0.084,0.12)(0.106,0.09)(0.121,0.14)(0.135,0.15)(0.150,0.15)(0.157,0.02)(0.186,0.02)(0.208,0.03)(0.237,-0.01)(0.259,0.01)(0.281,-0.01)(0.303,-0.02)(0.317,-0.01)(0.339,0.15)(0.354,0.12)(0.376,0.11)(0.397,0.10)(0.419,0.09)(0.441,0.06)(0.463,0.07)(0.485,-0.04)(0.507,-0.02)(0.536,-0.04)(0.565,-0.05)(0.594,-0.05)(0.623,-0.05)(0.652,-0.06)(0.681,-0.07)(0.693,-0.08)(0.699,0.24)(0.718,0.22)(0.740,0.22)(0.769,0.22)(0.795,0.22)(0.805,-0.02)(0.827,-0.02)(0.849,-0.01)(0.871,-0.01)(0.885,-0.05)(0.907,-0.03)(0.929,-0.01)(0.958,0.02)(0.987,0.03)(1.016,0.05)(1.045,0.05)(1.074,0.04)(1.104,0.05)(1.125,-0.04)(1.147,0.03)(1.176,0.04)(1.205,0.05)(1.235,0.05)(1.285,0.05)(1.307,-0.01)(1.336,-0.04)(1.366,-0.05)(1.395,-0.05)(1.424,-0.07)(1.453,-0.09)(1.482,-0.10)(1.511,-0.08)(1.540,-0.08)(1.569,-0.08)(1.598,-0.08)(1.628,-0.07)(1.657,-0.04)(1.679,0.05)(1.700,0.03)(1.730,0.02)(1.744,-0.01)(1.773,-0.02)(1.810,-0.02)(1.839,-0.07)(1.866,-0.07)(1.910,-0.08)(1.968,-0.08)(2.026,-0.08)(2.085,-0.08)(2.143,-0.08)(2.201,-0.08)(2.238,-0.10)(2.260,-0.08)(2.318,-0.08)(2.376,-0.07)(2.435,-0.06)(2.493,-0.05)(2.551,-0.04)(2.624,-0.03)(2.697,-0.04)(2.755,-0.04)(2.814,-0.05)(2.843,-0.05)(2.872,-0.07)(2.894,-0.02)(2.930,0.01)(2.989,0.01)(3.032,0.02)(3.091,0.01)(3.135,0.01)(3.193,0.01)(3.237,0.03)(3.266,0.12)(3.310,0.12)(3.324,0.03)(3.346,0.09)(3.397,0.09)(3.455,0.08)(3.514,0.09)(3.572,0.09)(3.630,0.08)(3.689,0.07)(3.747,0.06)(3.805,0.06)(3.864,0.06)(3.922,0.08)(3.992,0.07)(4.0,0.07)};
\addlegendentry{seed medio-lateral (z)}
\addplot[dk] coordinates {(0,0.01)(0.026,0.02)(0.055,0.01)(0.084,0.02)(0.114,0.03)(0.135,0.04)(0.150,0.01)(0.172,0.01)(0.194,-0.01)(0.215,0.01)(0.237,-0.02)(0.259,-0.01)(0.281,-0.02)(0.303,-0.01)(0.317,0.01)(0.332,0.07)(0.346,0.03)(0.368,0.04)(0.390,0.02)(0.412,0.03)(0.434,0.03)(0.456,0.02)(0.477,-0.02)(0.499,-0.04)(0.521,-0.03)(0.550,-0.04)(0.579,-0.02)(0.609,-0.02)(0.638,-0.01)(0.667,-0.02)(0.689,-0.01)(0.703,0.05)(0.725,0.04)(0.754,0.03)(0.783,0.03)(0.805,-0.02)(0.827,0.02)(0.849,0.01)(0.871,-0.01)(0.888,0.05)(0.900,0.01)(0.922,-0.04)(0.943,-0.02)(0.965,0.01)(0.987,-0.02)(1.016,0.01)(1.045,0.03)(1.067,0.05)(1.089,0.02)(1.111,0.03)(1.133,0.01)(1.162,0.02)(1.191,0.01)(1.220,0.03)(1.249,0.02)(1.278,0.01)(1.307,-0.01)(1.336,-0.03)(1.366,-0.04)(1.395,-0.04)(1.424,-0.06)(1.453,-0.05)(1.482,-0.02)(1.511,-0.04)(1.540,-0.02)(1.569,-0.03)(1.598,-0.02)(1.628,-0.02)(1.664,-0.01)(1.679,0.10)(1.700,0.08)(1.730,0.06)(1.759,0.05)(1.788,0.02)(1.817,0.01)(1.851,-0.02)(1.880,0.00)(1.910,-0.01)(1.939,0.01)(1.968,-0.01)(1.997,0.00)(2.041,0.01)(2.070,0.02)(2.092,0.04)(2.106,0.01)(2.143,-0.01)(2.187,0.01)(2.230,0.00)(2.260,0.01)(2.303,0.02)(2.347,0.01)(2.405,0.01)(2.449,0.02)(2.486,0.04)(2.507,-0.01)(2.537,-0.03)(2.566,-0.04)(2.595,-0.01)(2.639,0.02)(2.668,0.03)(2.697,0.03)(2.726,0.05)(2.755,0.06)(2.777,0.07)(2.799,0.05)(2.828,0.02)(2.857,0.01)(2.879,0.02)(2.894,0.11)(2.909,0.02)(2.930,0.01)(2.952,0.05)(2.974,0.08)(2.989,0.03)(3.011,0.02)(3.032,0.11)(3.054,0.07)(3.076,0.05)(3.105,0.03)(3.135,0.02)(3.164,0.03)(3.193,0.01)(3.222,0.03)(3.259,0.05)(3.280,0.01)(3.310,0.03)(3.339,0.02)(3.368,0.03)(3.397,0.01)(3.426,0.02)(3.455,-0.02)(3.485,0.01)(3.514,-0.01)(3.543,0.02)(3.572,-0.01)(3.601,0.03)(3.630,0.01)(3.660,-0.02)(3.689,0.02)(3.718,-0.01)(3.747,0.02)(3.776,-0.01)(3.805,0.01)(3.835,-0.01)(3.864,0.01)(3.893,-0.02)(3.922,-0.01)(3.951,0.01)(3.992,-0.02)(4.0,-0.02)};
\addlegendentry{tongue medio-lateral (z)}
\end{axis}

% ---------------- Panel 7
\begin{axis}[panel, at={(78.75pt,-564.75pt)}, anchor=south west,
 ymin=-0.0503, ymax=0.0507, ytick={-0.05,0,0.05}, yticklabels={−0.05,0.00,0.05},
 xtick={0,0.5,1,1.5,2,2.5,3,3.5,4}, xticklabels={0.0,0.5,1.0,1.5,2.0,2.5,3.0,3.5,4.0},
 xtick pos=bottom, xlabel={time [s]},
 ylabel={Transl. JCS lb\\(centr) [cm]},
 legend style={at={(0.004,0.03)}, anchor=south west}]
\spans{-0.0503}{0.0507}
\addplot[clight, line width=1.4pt, line join=round] coordinates {(0,0.0220)(0.019,0.0187)(0.033,0.0220)(0.055,0.0121)(0.070,0.0089)(0.092,0.0154)(0.114,0.0039)(0.135,-0.0026)(0.157,-0.0075)(0.172,-0.0059)(0.194,-0.0092)(0.213,-0.0026)(0.227,-0.0125)(0.242,-0.0075)(0.259,-0.0043)(0.281,-0.0026)(0.296,-0.0092)(0.310,-0.0108)(0.329,-0.0026)(0.344,-0.0043)(0.361,-0.0059)(0.383,-0.0092)(0.405,-0.0174)(0.419,-0.0043)(0.437,0.0023)(0.456,-0.0010)(0.470,-0.0043)(0.492,-0.0272)(0.510,-0.0043)(0.528,-0.0026)(0.550,-0.0059)(0.572,-0.0092)(0.594,-0.0075)(0.616,-0.0059)(0.638,-0.0010)(0.659,-0.0026)(0.681,0.0023)(0.699,-0.0010)(0.718,-0.0043)(0.740,-0.0075)(0.761,-0.0141)(0.783,-0.0075)(0.805,-0.0043)(0.824,-0.0141)(0.841,-0.0207)(0.863,-0.0075)(0.882,-0.0043)(0.900,-0.0026)(0.922,-0.0075)(0.943,-0.0043)(0.970,-0.0370)(0.987,-0.0207)(1.009,-0.0092)(1.031,-0.0125)(1.048,-0.0403)(1.067,-0.0207)(1.089,-0.0108)(1.111,-0.0141)(1.130,-0.0305)(1.147,-0.0174)(1.169,-0.0125)(1.191,-0.0125)(1.213,-0.0354)(1.232,-0.0174)(1.256,-0.0141)(1.278,-0.0157)(1.296,-0.0387)(1.315,-0.0174)(1.336,-0.0125)(1.366,-0.0141)(1.387,-0.0174)(1.409,-0.0157)(1.431,-0.0125)(1.453,-0.0141)(1.479,-0.0207)(1.497,-0.0174)(1.518,-0.0125)(1.540,-0.0141)(1.562,-0.0108)(1.584,-0.0125)(1.606,-0.0092)(1.628,-0.0125)(1.657,-0.0141)(1.679,-0.0125)(1.700,-0.0108)(1.730,-0.0141)(1.751,-0.0108)(1.773,-0.0059)(1.802,-0.0092)(1.822,-0.0141)(1.837,-0.0289)(1.851,-0.0190)(1.866,-0.0141)(1.880,-0.0157)(1.910,-0.0141)(1.939,-0.0174)(1.968,-0.0125)(1.997,-0.0092)(2.026,-0.0059)(2.055,-0.0043)(2.085,-0.0010)(2.114,0.0007)(2.143,-0.0010)(2.172,-0.0043)(2.201,-0.0026)(2.230,0.0007)(2.260,-0.0010)(2.289,-0.0026)(2.318,-0.0043)(2.347,-0.0075)(2.376,-0.0059)(2.405,-0.0026)(2.435,-0.0043)(2.464,-0.0059)(2.493,-0.0075)(2.522,-0.0043)(2.551,-0.0010)(2.580,-0.0026)(2.610,-0.0059)(2.639,-0.0043)(2.668,-0.0026)(2.697,-0.0010)(2.726,-0.0059)(2.755,-0.0075)(2.785,-0.0043)(2.814,-0.0092)(2.843,-0.0075)(2.857,-0.0092)(2.872,-0.0239)(2.887,-0.0108)(2.901,-0.0157)(2.916,-0.0092)(2.930,-0.0043)(2.960,-0.0141)(2.989,-0.0092)(3.018,-0.0059)(3.047,-0.0092)(3.076,-0.0043)(3.105,0.0007)(3.135,0.0039)(3.164,0.0056)(3.193,0.0072)(3.222,0.0056)(3.251,0.0039)(3.266,0.0154)(3.280,0.0252)(3.295,0.0187)(3.310,0.0269)(3.324,0.0318)(3.339,0.0351)(3.353,0.0367)(3.368,0.0318)(3.383,0.0351)(3.397,0.0367)(3.412,0.0334)(3.426,0.0351)(3.441,0.0367)(3.455,0.0384)(3.470,0.0351)(3.485,0.0367)(3.499,0.0400)(3.514,0.0384)(3.528,0.0367)(3.543,0.0384)(3.557,0.0400)(3.572,0.0416)(3.587,0.0384)(3.601,0.0400)(3.616,0.0351)(3.630,0.0318)(3.645,0.0285)(3.660,0.0252)(3.674,0.0220)(3.689,0.0203)(3.703,0.0154)(3.718,0.0170)(3.732,0.0203)(3.747,0.0187)(3.762,0.0220)(3.776,0.0187)(3.791,0.0170)(3.805,0.0203)(3.820,0.0220)(3.835,0.0170)(3.849,0.0203)(3.864,0.0187)(3.878,0.0252)(3.893,0.0220)(3.907,0.0187)(3.922,0.0285)(3.937,0.0252)(3.951,0.0269)(3.966,0.0236)(3.980,0.0236)(3.992,0.0187)(4.0,0.0190)};
\addlegendentry{JCS lower beak (x)}
\addplot[cmid, line width=1.4pt, line join=round] coordinates {(0,-0.0026)(0.012,-0.0043)(0.026,-0.0059)(0.041,0.0023)(0.055,-0.0043)(0.070,-0.0010)(0.084,0.0056)(0.099,0.0007)(0.114,0.0039)(0.128,0.0089)(0.143,0.0121)(0.154,0.0302)(0.165,0.0089)(0.179,0.0023)(0.194,0.0072)(0.215,0.0089)(0.234,0.0367)(0.247,0.0121)(0.266,0.0056)(0.281,0.0039)(0.296,0.0089)(0.310,0.0220)(0.317,0.0285)(0.329,0.0089)(0.346,0.0039)(0.368,0.0056)(0.383,0.0072)(0.402,0.0318)(0.416,0.0121)(0.434,0.0039)(0.451,0.0056)(0.470,0.0187)(0.485,0.0433)(0.499,0.0187)(0.518,0.0072)(0.536,0.0089)(0.553,0.0252)(0.568,0.0089)(0.587,0.0056)(0.609,0.0072)(0.630,0.0220)(0.645,0.0056)(0.664,0.0023)(0.681,-0.0010)(0.703,-0.0043)(0.718,-0.0092)(0.732,-0.0108)(0.747,-0.0102)(0.761,-0.0075)(0.776,-0.0059)(0.795,-0.0026)(0.805,0.0318)(0.820,0.0056)(0.841,0.0023)(0.859,0.0056)(0.878,0.0384)(0.892,0.0121)(0.914,0.0056)(0.936,0.0089)(0.965,0.0400)(0.980,0.0121)(1.002,0.0039)(1.023,0.0154)(1.048,0.0498)(1.063,0.0187)(1.082,0.0121)(1.104,0.0089)(1.121,0.0302)(1.136,0.0072)(1.154,0.0039)(1.173,0.0023)(1.191,0.0220)(1.210,0.0416)(1.224,0.0121)(1.242,0.0039)(1.264,0.0072)(1.278,0.0252)(1.297,0.0466)(1.312,0.0089)(1.329,-0.0026)(1.348,-0.0043)(1.373,-0.0026)(1.387,0.0154)(1.402,-0.0010)(1.424,-0.0059)(1.446,-0.0043)(1.460,0.0170)(1.479,-0.0043)(1.504,-0.0075)(1.529,0.0039)(1.547,-0.0092)(1.569,-0.0125)(1.591,-0.0075)(1.613,0.0023)(1.628,-0.0026)(1.657,-0.0026)(1.679,-0.0059)(1.697,-0.0075)(1.715,-0.0092)(1.737,-0.0125)(1.759,-0.0075)(1.780,-0.0043)(1.795,-0.0125)(1.817,-0.0092)(1.837,0.0154)(1.851,0.0056)(1.866,0.0023)(1.880,0.0007)(1.895,0.0039)(1.910,-0.0010)(1.924,0.0023)(1.939,-0.0026)(1.953,0.0056)(1.968,0.0170)(1.982,-0.0043)(1.997,-0.0092)(2.012,-0.0075)(2.026,-0.0026)(2.041,0.0007)(2.055,-0.0043)(2.070,-0.0010)(2.085,-0.0059)(2.099,-0.0026)(2.114,-0.0010)(2.128,-0.0043)(2.143,0.0007)(2.157,-0.0043)(2.172,-0.0010)(2.187,-0.0026)(2.201,0.0007)(2.216,-0.0026)(2.230,-0.0010)(2.245,-0.0043)(2.260,0.0007)(2.274,0.0023)(2.289,0.0039)(2.303,0.0023)(2.318,0.0007)(2.332,-0.0010)(2.347,0.0007)(2.362,0.0023)(2.376,-0.0010)(2.391,-0.0026)(2.405,-0.0059)(2.420,-0.0108)(2.435,-0.0157)(2.449,-0.0207)(2.464,-0.0233)(2.478,-0.0223)(2.493,-0.0239)(2.507,-0.0223)(2.522,-0.0207)(2.537,-0.0190)(2.551,-0.0108)(2.566,-0.0043)(2.580,-0.0010)(2.595,0.0007)(2.610,0.0023)(2.624,0.0056)(2.639,-0.0010)(2.653,0.0007)(2.668,-0.0026)(2.682,-0.0043)(2.697,-0.0010)(2.712,0.0039)(2.726,0.0072)(2.741,0.0056)(2.755,0.0187)(2.770,0.0039)(2.785,-0.0256)(2.799,-0.0043)(2.814,-0.0026)(2.828,-0.0075)(2.843,-0.0010)(2.857,-0.0043)(2.872,0.0089)(2.887,-0.0043)(2.901,-0.0026)(2.916,-0.0010)(2.930,0.0056)(2.945,0.0203)(2.960,0.0007)(2.974,-0.0026)(2.989,0.0007)(3.003,0.0089)(3.018,0.0203)(3.032,-0.0010)(3.047,-0.0043)(3.062,0.0007)(3.076,0.0023)(3.091,0.0056)(3.105,0.0138)(3.120,-0.0026)(3.135,-0.0075)(3.149,-0.0043)(3.164,-0.0010)(3.178,0.0089)(3.193,-0.0010)(3.207,-0.0043)(3.222,0.0007)(3.237,0.0121)(3.251,0.0187)(3.266,0.0039)(3.280,-0.0043)(3.295,-0.0092)(3.310,-0.0043)(3.324,0.0007)(3.339,-0.0026)(3.353,0.0007)(3.368,-0.0010)(3.383,-0.0043)(3.397,-0.0010)(3.412,0.0007)(3.426,-0.0010)(3.441,0.0039)(3.455,0.0023)(3.470,0.0007)(3.485,-0.0010)(3.499,0.0023)(3.514,-0.0026)(3.528,-0.0043)(3.543,-0.0010)(3.557,-0.0026)(3.572,-0.0010)(3.587,-0.0059)(3.601,-0.0026)(3.616,0.0007)(3.630,-0.0043)(3.645,-0.0010)(3.660,0.0039)(3.674,-0.0043)(3.689,-0.0092)(3.703,-0.0141)(3.718,-0.0125)(3.732,-0.0174)(3.747,-0.0157)(3.762,-0.0190)(3.776,-0.0141)(3.791,-0.0174)(3.805,-0.0125)(3.820,-0.0141)(3.835,-0.0157)(3.849,-0.0134)(3.864,-0.0157)(3.878,-0.0125)(3.893,-0.0141)(3.907,-0.0125)(3.922,-0.0134)(3.937,-0.0092)(3.951,-0.0125)(3.966,-0.0075)(3.980,-0.0092)(3.992,-0.0108)(4.0,-0.0100)};
\addlegendentry{JCS lower beak (y)}
\addplot[cdark, line width=1.5pt, line join=round] coordinates {(0,0.0072)(0.012,0.0023)(0.026,0.0056)(0.041,0.0007)(0.055,0.0072)(0.073,0.0049)(0.087,0.0121)(0.102,0.0089)(0.121,0.0128)(0.135,0.0089)(0.150,0.0138)(0.165,0.0105)(0.179,0.0154)(0.194,0.0089)(0.208,0.0121)(0.223,0.0138)(0.237,0.0095)(0.252,0.0121)(0.266,0.0154)(0.281,0.0089)(0.296,0.0072)(0.310,0.0121)(0.325,0.0056)(0.339,0.0154)(0.354,0.0121)(0.368,0.0170)(0.383,0.0105)(0.397,0.0138)(0.412,0.0161)(0.427,0.0089)(0.441,0.0121)(0.456,0.0072)(0.470,0.0154)(0.485,0.0138)(0.499,0.0121)(0.514,0.0170)(0.528,0.0121)(0.543,0.0128)(0.558,0.0105)(0.572,0.0138)(0.587,0.0089)(0.601,0.0072)(0.616,0.0121)(0.630,0.0056)(0.645,0.0105)(0.659,0.0089)(0.674,0.0154)(0.689,0.0220)(0.703,0.0285)(0.718,0.0187)(0.732,0.0154)(0.747,0.0121)(0.761,0.0105)(0.776,0.0138)(0.790,0.0089)(0.805,0.0121)(0.820,0.0056)(0.834,0.0089)(0.849,0.0121)(0.863,0.0072)(0.878,0.0121)(0.892,0.0089)(0.907,0.0072)(0.922,0.0105)(0.936,0.0039)(0.951,-0.0010)(0.965,-0.0059)(0.980,-0.0092)(0.994,-0.0075)(1.009,-0.0108)(1.023,-0.0092)(1.038,-0.0125)(1.053,-0.0102)(1.067,-0.0075)(1.082,-0.0092)(1.096,-0.0125)(1.111,-0.0075)(1.125,-0.0092)(1.140,-0.0059)(1.154,-0.0043)(1.169,0.0007)(1.184,-0.0075)(1.198,-0.0092)(1.213,-0.0059)(1.227,-0.0108)(1.242,-0.0075)(1.256,-0.0092)(1.271,-0.0059)(1.285,-0.0102)(1.300,-0.0059)(1.315,-0.0082)(1.329,-0.0026)(1.344,-0.0075)(1.358,-0.0043)(1.373,-0.0010)(1.387,-0.0059)(1.402,0.0007)(1.416,-0.0043)(1.431,0.0039)(1.446,-0.0010)(1.460,0.0056)(1.475,-0.0026)(1.489,0.0023)(1.504,0.0056)(1.518,0.0007)(1.533,0.0072)(1.547,0.0039)(1.562,0.0089)(1.577,0.0030)(1.591,0.0072)(1.606,0.0056)(1.620,0.0089)(1.635,0.0023)(1.649,0.0072)(1.664,0.0039)(1.679,0.0089)(1.693,0.0121)(1.708,0.0039)(1.722,0.0007)(1.737,-0.0075)(1.751,-0.0043)(1.766,-0.0108)(1.780,-0.0059)(1.795,-0.0026)(1.810,-0.0092)(1.837,-0.0092)(1.851,-0.0043)(1.866,-0.0075)(1.880,-0.0092)(1.895,-0.0059)(1.910,-0.0075)(1.924,-0.0059)(1.939,-0.0092)(1.953,-0.0108)(1.968,-0.0092)(1.982,-0.0108)(1.997,-0.0125)(2.012,-0.0075)(2.026,-0.0010)(2.041,0.0203)(2.055,0.0252)(2.070,0.0236)(2.085,0.0252)(2.099,0.0170)(2.114,0.0105)(2.128,0.0056)(2.143,0.0007)(2.157,-0.0059)(2.172,-0.0075)(2.187,-0.0043)(2.201,0.0039)(2.216,-0.0043)(2.230,-0.0010)(2.245,0.0023)(2.260,-0.0043)(2.274,-0.0075)(2.289,0.0056)(2.303,0.0072)(2.318,0.0089)(2.332,0.0121)(2.347,0.0105)(2.362,0.0056)(2.376,0.0089)(2.391,0.0072)(2.405,0.0089)(2.420,0.0072)(2.435,0.0089)(2.449,0.0138)(2.464,0.0154)(2.478,0.0187)(2.493,0.0285)(2.500,0.0318)(2.507,0.0252)(2.522,0.0056)(2.537,0.0007)(2.551,-0.0010)(2.566,0.0023)(2.580,-0.0010)(2.595,0.0039)(2.610,0.0007)(2.624,0.0056)(2.639,0.0007)(2.653,0.0039)(2.668,-0.0010)(2.682,0.0007)(2.697,0.0056)(2.712,0.0121)(2.726,0.0252)(2.741,0.0285)(2.755,0.0252)(2.770,0.0285)(2.785,0.0236)(2.799,0.0089)(2.814,0.0105)(2.828,0.0072)(2.843,0.0039)(2.857,0.0056)(2.872,0.0023)(2.887,0.0039)(2.901,0.0007)(2.916,0.0023)(2.930,0.0039)(2.945,0.0007)(2.960,0.0023)(2.974,-0.0010)(2.989,0.0007)(3.003,0.0023)(3.018,-0.0010)(3.032,0.0007)(3.047,0.0039)(3.062,-0.0010)(3.076,-0.0043)(3.091,-0.0075)(3.105,-0.0092)(3.120,-0.0125)(3.135,-0.0141)(3.149,-0.0108)(3.164,-0.0157)(3.178,-0.0125)(3.193,-0.0141)(3.207,-0.0157)(3.222,-0.0174)(3.237,-0.0125)(3.251,-0.0141)(3.266,-0.0092)(3.280,-0.0026)(3.295,0.0007)(3.310,0.0039)(3.324,0.0056)(3.339,-0.0010)(3.353,0.0056)(3.368,0.0072)(3.383,0.0023)(3.397,0.0039)(3.412,-0.0010)(3.426,0.0023)(3.441,0.0007)(3.455,0.0056)(3.470,0.0039)(3.485,0.0023)(3.499,0.0007)(3.514,0.0039)(3.528,0.0072)(3.543,0.0089)(3.557,0.0072)(3.572,0.0105)(3.587,0.0089)(3.601,0.0072)(3.616,0.0105)(3.630,0.0089)(3.645,0.0072)(3.660,-0.0043)(3.674,-0.0174)(3.689,-0.0223)(3.703,-0.0207)(3.718,-0.0239)(3.732,-0.0223)(3.747,-0.0239)(3.762,-0.0207)(3.776,-0.0256)(3.791,-0.0272)(3.805,-0.0223)(3.820,-0.0207)(3.835,-0.0190)(3.849,-0.0207)(3.864,-0.0174)(3.878,-0.0207)(3.893,-0.0190)(3.907,-0.0207)(3.922,-0.0190)(3.937,-0.0200)(3.951,-0.0207)(3.966,-0.0190)(3.992,-0.0239)(4.0,-0.0230)};
\addlegendentry{JCS lower beak (z)}
\end{axis}
\end{tikzpicture}
\end{document}
